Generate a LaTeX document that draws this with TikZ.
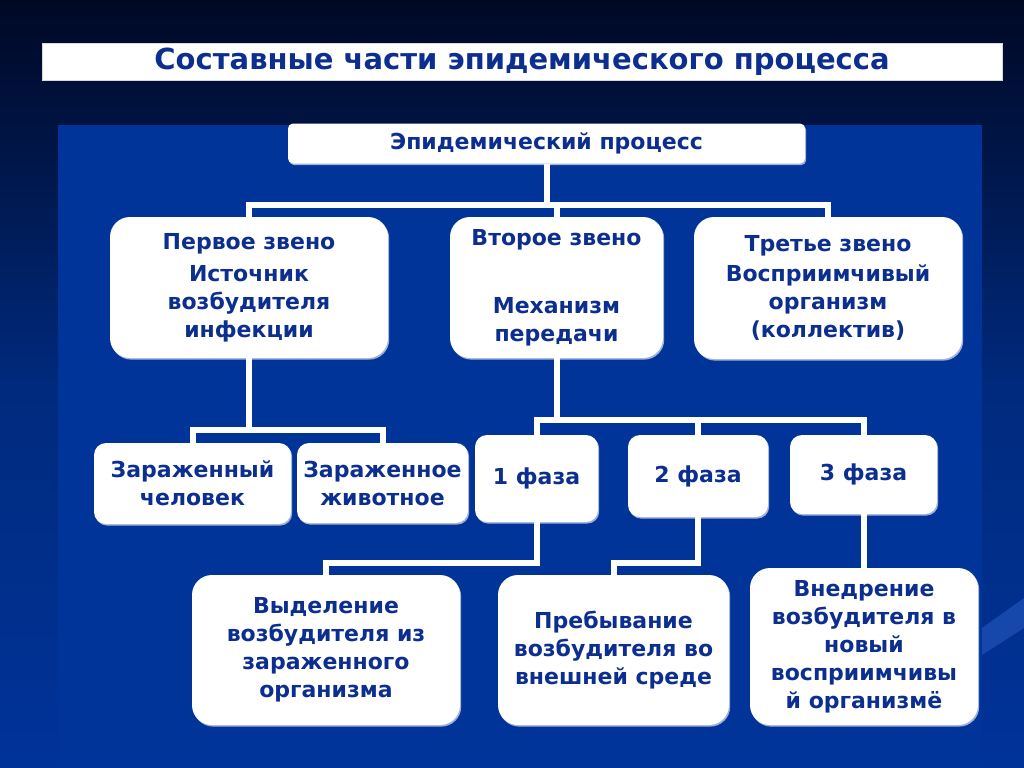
\documentclass[tikz,border=0pt]{standalone}
\usepackage{fontspec}
\setmainfont{DejaVu Sans}
\usetikzlibrary{shadows}
\definecolor{bgtop}{RGB}{0,8,36}
\definecolor{bgmid}{RGB}{0,42,125}
\definecolor{bgbot}{RGB}{0,51,153}
\definecolor{panel}{RGB}{0,52,153}
\definecolor{stripe}{RGB}{22,72,172}
\definecolor{txt}{RGB}{12,46,143}
\definecolor{shd}{RGB}{160,178,215}
\begin{document}
\begin{tikzpicture}[x=0.5pt,y=-0.5pt,
  box/.style={draw=none,fill=white,rounded corners=#1,inner sep=0pt,align=center,text=txt,
    font=\fontsize{11}{14}\selectfont\bfseries,
    drop shadow={shadow xshift=0.6pt,shadow yshift=-0.8pt,fill=shd,opacity=1}},
  conn/.style={draw=white,line width=3pt}]
\useasboundingbox (0,0) rectangle (1024,767);
\shade[top color=bgtop,bottom color=bgbot,middle color=bgmid] (0,0) rectangle (1024,767);
\fill[panel] (58,125) rectangle (982,767);
\fill[stripe] (982,628) -- (1024,598) -- (1024,628) -- (982,655) -- cycle;
% title
\node[fill=white,draw=white!85!black,line width=0.4pt,minimum width=480pt,minimum height=18.5pt,inner sep=0pt,
  text=txt,font=\fontsize{14.5}{17}\selectfont\bfseries] (title) at (522,61.5) {Составные части эпидемического процесса};
% level 1
\node[box=2.5pt,minimum width=258.5pt,minimum height=20pt] (top) at (546.5,143.5) {Эпидемический процесс};
% level 2
\node[box=10pt,minimum width=139pt,minimum height=70.5pt] (A) at (249,287.5) {Первое звено\\[2pt]Источник\\возбудителя\\инфекции};
\node[box=10pt,minimum width=106.5pt,minimum height=70.5pt] (B) at (556.5,287.5) {Второе звено\\[20pt]Механизм\\передачи};
\node[box=10pt,minimum width=134pt,minimum height=71pt] (C) at (828,288) {Третье звено\\[1pt]Восприимчивый\\организм\\(коллектив)};
% level 3
\node[box=6pt,minimum width=98.5pt,minimum height=40.5pt] (D) at (192.5,483.5) {Зараженный\\человек};
\node[box=6pt,minimum width=85.5pt,minimum height=40pt] (E) at (382.5,483) {Зараженное\\животное};
\node[box=6pt,minimum width=61.5pt,minimum height=43.5pt] (F1) at (536.5,478.5) {1 фаза};
\node[box=6pt,minimum width=70pt,minimum height=41pt] (F2) at (698,476) {2 фаза};
\node[box=6pt,minimum width=73.5pt,minimum height=39.5pt] (F3) at (863.5,474.5) {3 фаза};
% level 4
\node[box=10pt,minimum width=134pt,minimum height=75pt] (G) at (326,650) {Выделение\\возбудителя из\\зараженного\\организма};
\node[box=10pt,minimum width=115.5pt,minimum height=75pt] (H) at (613.5,650) {Пребывание\\возбудителя во\\внешней среде};
\node[box=10pt,minimum width=114pt,minimum height=78.5pt] (I) at (864,646.5) {Внедрение\\возбудителя в\\новый\\восприимчивы\\й организмё};
% junctions
\coordinate (j1) at (546.5,205);
\coordinate (j2) at (249,430);
\coordinate (j3) at (556.5,420);
\coordinate (j4) at (536.5,563);
\coordinate (j5) at (698,563);
% connectors
\draw[conn] (top.south) -- (j1);
\draw[conn] (A.north) |- (j1) -| (C.north);
\draw[conn] (j1) -| (B.north);
\draw[conn] (A.south) -- (j2);
\draw[conn] (D.north) |- (j2) -| (E.north);
\draw[conn] (B.south) -- (j3);
\draw[conn] (F1.north) |- (j3) -| (F3.north);
\draw[conn] (j3) -| (F2.north);
\draw[conn] (F1.south) -- (j4) -| (G.north);
\draw[conn] (F2.south) -- (j5) -| (H.north);
\draw[conn] (F3.south) -- (F3.south |- I.north);
\end{tikzpicture}
\end{document}
